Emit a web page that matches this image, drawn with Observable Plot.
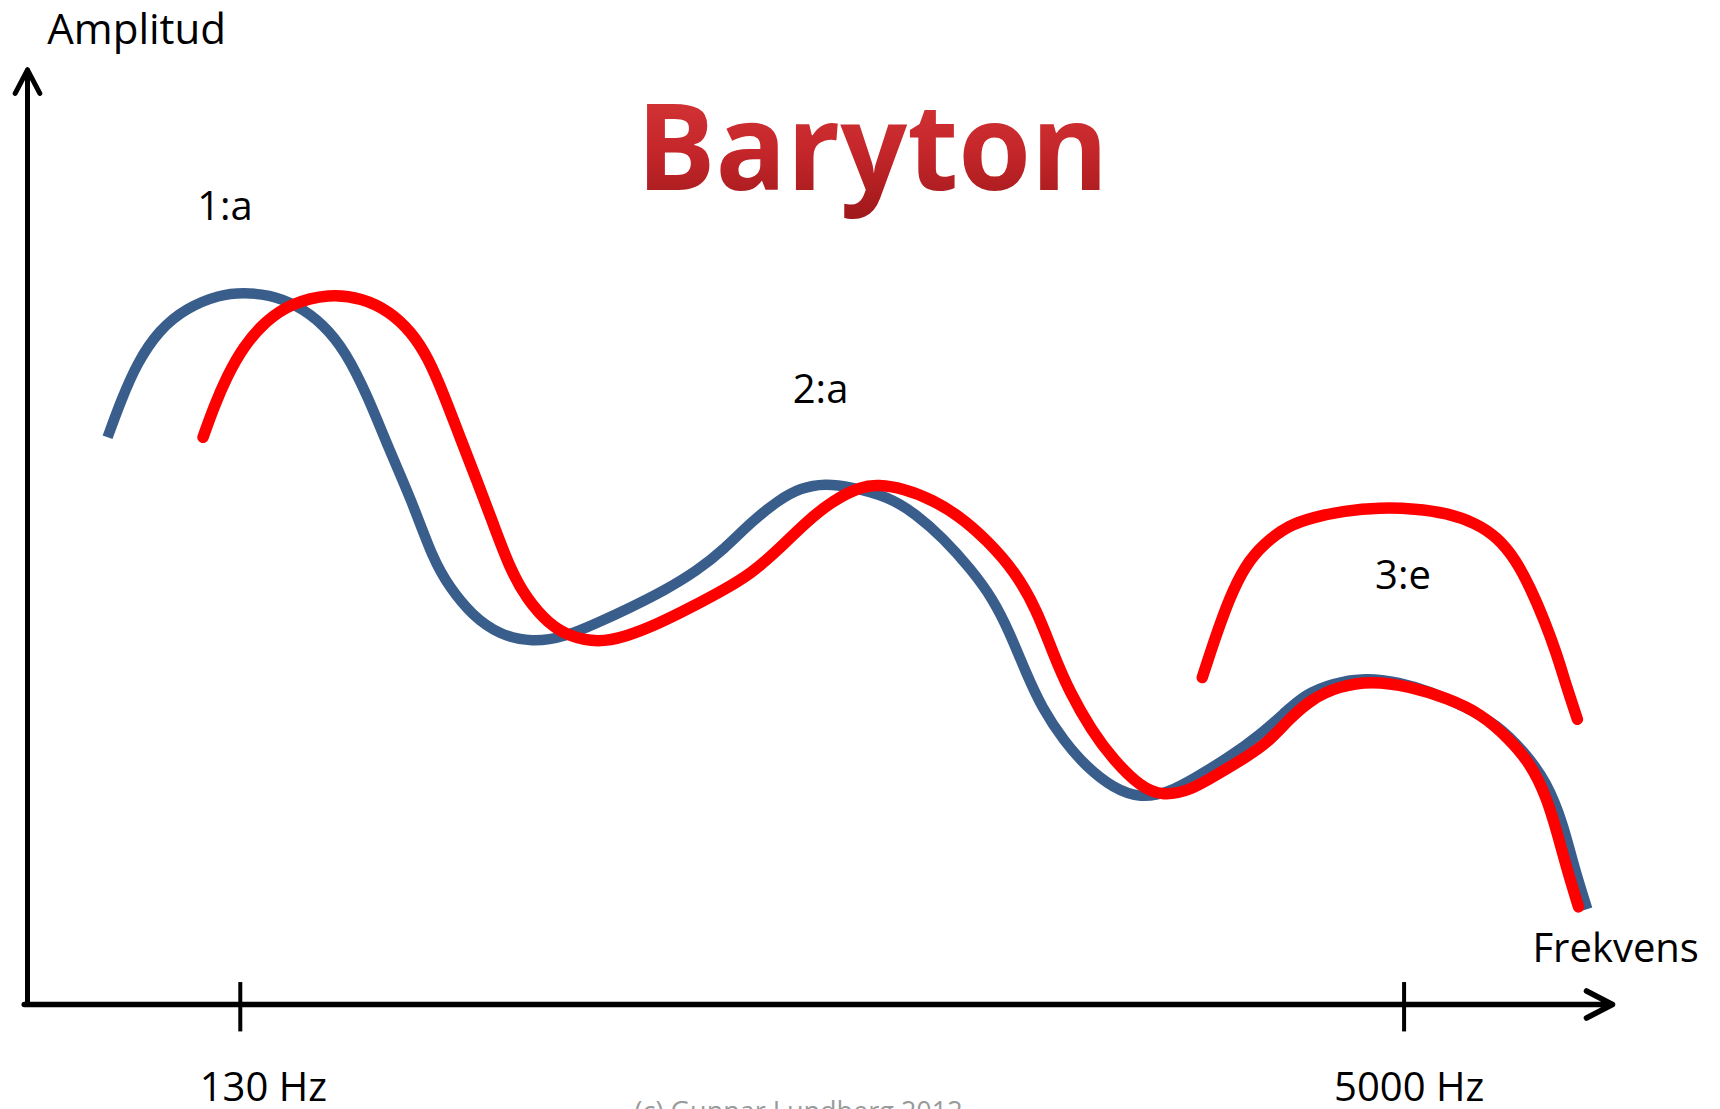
<!DOCTYPE html>
<html>
<head>
<meta charset="utf-8">
<script src="https://cdn.jsdelivr.net/npm/d3@7"></script>
<script src="https://cdn.jsdelivr.net/npm/@observablehq/plot@0.6"></script>
<style>
  html, body { margin: 0; padding: 0; background: #fff; overflow: hidden; }
  #chart svg { display: block; font-family: "Open Sans", sans-serif; }
</style>
</head>
<body>
<div id="chart"></div>
<script>
// Curves: [frequency position, amplitude] in chart units
const blueCurve = [
  [73,517],[85,550],[100,585],[120,615],[145,635],[175,647],[197,649],[220,647],[245,638],
  [270,620],[290,595],[310,555],[330,505],[350,460],[370,405],[385,380],[405,355],[430,337],
  [460,330],[490,335],[520,348],[550,362],[580,377],[610,395],[635,415],[660,440],[685,460],
  [705,471],[727,475],[750,472],[785,463],[810,447],[835,425],[860,397],[880,370],[895,340],
  [910,303],[925,270],[945,240],[965,217],[990,197],[1015,188],[1040,193],[1065,207],[1095,225],
  [1125,247],[1145,265],[1165,283],[1190,293],[1220,298],[1250,294],[1280,285],[1310,272],
  [1340,255],[1365,230],[1385,203],[1400,165],[1410,125],[1422,87]
];
const redCurve = [
  [160,517],[170,545],[182,573],[197,600],[217,623],[240,639],[275,648],[305,644],[330,632],
  [350,613],[365,590],[380,555],[395,515],[410,477],[425,437],[440,397],[455,370],[475,347],
  [495,335],[520,330],[545,335],[575,347],[605,362],[635,378],[660,393],[685,415],[710,440],
  [735,460],[760,472],[775,474],[800,470],[825,460],[850,445],[875,423],[900,395],[920,360],
  [935,320],[950,285],[970,250],[990,223],[1015,198],[1035,190],[1060,195],[1085,210],[1110,225],
  [1130,238],[1150,260],[1170,278],[1195,290],[1225,295],[1260,290],[1295,279],[1325,265],
  [1350,243],[1370,220],[1385,189],[1395,155],[1403,125],[1414,89]
];
const redFormant3e = [
  [1071,298],[1083,335],[1096,371],[1110,400],[1127,420],[1150,437],[1172,444],[1200,450],
  [1233,453],[1265,452],[1294,448],[1320,439],[1340,426],[1357,405],[1370,380],[1383,350],
  [1394,320],[1403,290],[1413,260]
];
const formantLabels = ["1:a", "2:a", "3:e"];
const formantX = [180, 723, 1254];
const formantY = [727, 560, 390];
const tickFreqs = ["130 Hz", "5000 Hz"];
const tickX = [194, 1255];
const title = "Baryton";
const yLabel = "Amplitud";
const xLabel = "Frekvens";
const credit = "(c) Gunnar Lundberg 2012";

const xMax = 1445, yMax = 852;

const ticks = tickFreqs.map((label, i) => ({label, x: tickX[i]}));
const formants = formantLabels.map((label, i) => ({label, x: formantX[i], y: formantY[i]}));
const xy = {x: d => d[0], y: d => d[1]};

const plot = Plot.plot({
  width: 1720,
  height: 1109,
  margin: 0,
  x: {domain: [0, 1445], range: [27, 1612], axis: null},
  y: {domain: [0, 855], range: [1004, 66], axis: null},
  style: {fontFamily: "'Open Sans', sans-serif", background: "#fff"},
  marks: [
    // axes as arrows
    Plot.arrow([0], {x1: 0, y1: 0, x2: 0, y2: yMax, stroke: "#000", strokeWidth: 5, headAngle: 55, headLength: 8, strokeLinecap: "round", strokeLinejoin: "round"}),
    Plot.arrow([0], {x1: -3, y1: 0, x2: xMax, y2: 0, stroke: "#000", strokeWidth: 5.5, headAngle: 55, headLength: 8, strokeLinecap: "round", strokeLinejoin: "round"}),
    // ticks
    Plot.ruleX(ticks, {x: "x", y1: -25, y2: 20, stroke: "#000", strokeWidth: 4}),
    Plot.text(ticks.slice(0, 1), {x: "x", y: -76, text: "label", dx: 23, fontSize: 40, fill: "#000"}),
    Plot.text(ticks.slice(1), {x: "x", y: -76, text: "label", dx: 5, fontSize: 40, fill: "#000"}),
    // curves
    Plot.line(blueCurve, {...xy, curve: "basis", stroke: "#3a5e8c", strokeWidth: 10.5, strokeLinecap: "butt"}),
    Plot.line(redCurve, {...xy, curve: "basis", stroke: "#ff0000", strokeWidth: 11.5, strokeLinecap: "round"}),
    Plot.line(redFormant3e, {...xy, curve: "basis", stroke: "#ff0000", strokeWidth: 11.5, strokeLinecap: "round"}),
    // formant labels
    Plot.text(formants, {x: "x", y: "y", text: "label", fontSize: 40, fill: "#000"}),
    // axis labels
    Plot.text([yLabel], {x: 18, y: 888, text: d => d, textAnchor: "start", fontSize: 42, fill: "#000"}),
    Plot.text([xLabel], {x: 1372, y: 50, text: d => d, textAnchor: "start", fontSize: 40, fill: "#000"}),
    // title
    Plot.text([title], {frameAnchor: "top", lineAnchor: "top", dy: 104, dx: 12, text: d => d, fontSize: 121, fontWeight: "bold", fill: "url(#titleGrad)"}),
    // credit (cut off at bottom, as in the original)
    Plot.text([credit], {x: 703, y: -98.5, text: d => d, fontSize: 27, fill: "#9a9a9a"})
  ]
});

// gradient for title
const svg = d3.select(plot);
const defs = svg.insert("defs", ":first-child");
const g = defs.append("linearGradient").attr("id", "titleGrad").attr("x1", 0).attr("y1", 0).attr("x2", 0).attr("y2", 1);
g.append("stop").attr("offset", "0%").attr("stop-color", "#dc3c3c");
g.append("stop").attr("offset", "55%").attr("stop-color", "#c4262a");
g.append("stop").attr("offset", "100%").attr("stop-color", "#9c1719");
svg.selectAll("text").filter(function() { return this.textContent === title; })
  .attr("textLength", 472).attr("lengthAdjust", "spacingAndGlyphs");

document.getElementById("chart").appendChild(plot);
</script>
</body>
</html>
